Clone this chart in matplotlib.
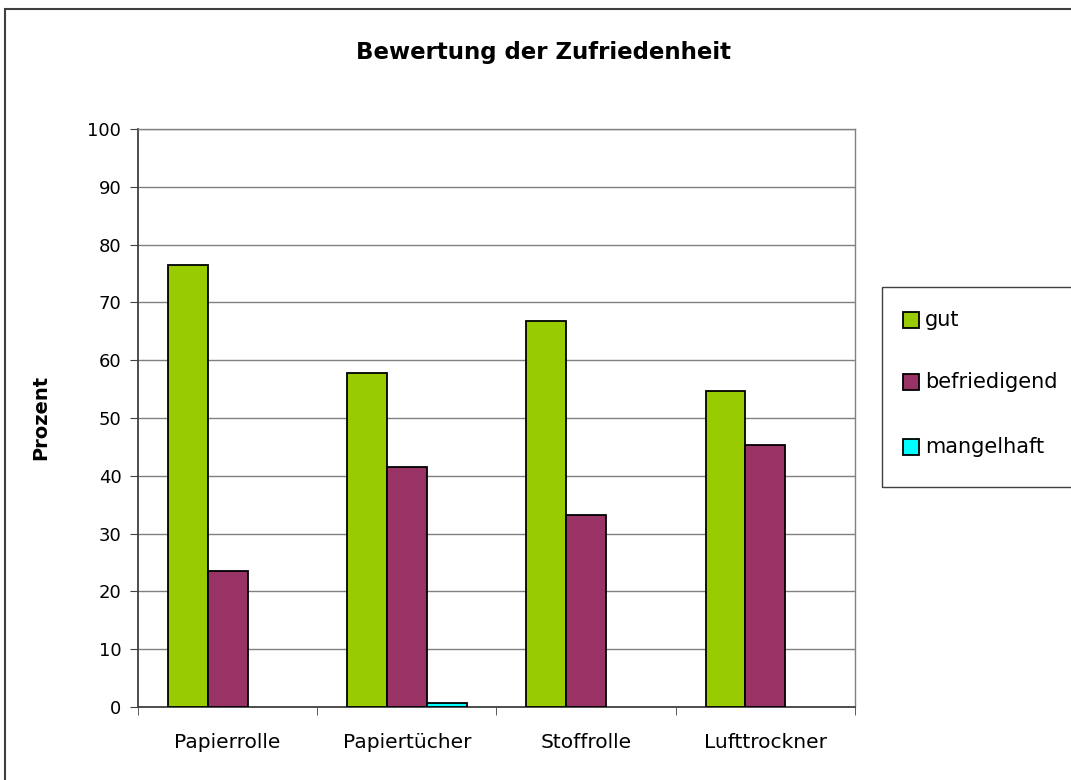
import matplotlib
matplotlib.use("Agg")
import matplotlib.pyplot as plt
import numpy as np
from matplotlib.patches import Rectangle

plt.rcParams['font.family'] = ['DejaVu Sans']

categories = ["Papierrolle", "Papiertücher", "Stoffrolle", "Lufttrockner"]
series_names = ["gut", "befriedigend", "mangelhaft"]
gut = [76.5, 57.8, 66.7, 54.7]
befriedigend = [23.5, 41.5, 33.3, 45.3]
mangelhaft = [0.0, 0.7, 0.0, 0.0]
colors = ["#99CC00", "#993366", "#00FFFF"]
yticks = [0, 10, 20, 30, 40, 50, 60, 70, 80, 90, 100]

W, H = 1071, 780
fig = plt.figure(figsize=(W / 100, H / 100), dpi=100)
fig.patch.set_facecolor("white")

# outer chart border
fig.add_artist(Rectangle((5 / W, -0.01), 1.02, 1 - 9 / H + 0.01, transform=fig.transFigure,
                         fill=False, edgecolor="#404040", linewidth=1.5))

ax = fig.add_axes([138 / W, 1 - 707 / H, (855 - 138) / W, (707 - 129) / H])
x = np.arange(len(categories))
bw = 1 / 4.5
data = [gut, befriedigend, mangelhaft]
for i, (vals, c) in enumerate(zip(data, colors)):
    v = np.array(vals, dtype=float)
    mask = v > 0
    ax.bar(x[mask] + (i - 1) * bw, v[mask], width=bw, color=c, edgecolor="black",
           linewidth=1.3, zorder=3, label=series_names[i])

ax.set_xlim(-0.5, len(categories) - 0.5)
ax.set_ylim(0, 100)
ax.set_yticks(yticks)
ax.yaxis.grid(True, color="#808080", linewidth=1.0, zorder=0)
ax.set_axisbelow(True)
ax.set_xticks(x)
ax.set_xticklabels(categories, fontsize=14.5)
ax.tick_params(axis="x", length=0, pad=19)
ax.set_xticks(np.arange(len(categories) + 1) - 0.5, minor=True)
ax.tick_params(axis="x", which="minor", length=6, direction="out", color="#404040")
ax.tick_params(axis="y", labelsize=13, length=6, direction="out", color="#404040", pad=6)
for s in ["left", "bottom"]:
    ax.spines[s].set_color("#404040")
    ax.spines[s].set_linewidth(1.3)
for s in ["right", "top"]:
    ax.spines[s].set_color("#808080")
    ax.spines[s].set_linewidth(1.0)

fig.text(41 / W, 1 - 417 / H, "Prozent", rotation=90, ha="center", va="center",
         fontsize=14, fontweight="bold")

fig.text(543 / W, 1 - 52 / H, "Bewertung der Zufriedenheit",
         ha="center", va="center", fontsize=16.5, fontweight="bold")

# legend box
fig.add_artist(Rectangle((882 / W, 1 - 487 / H), 0.3, 200 / H,
                         transform=fig.transFigure, fill=False, edgecolor="#404040", linewidth=1.0))
leg_y = [320, 382, 447]
for name, c, yy in zip(series_names, colors, leg_y):
    fig.add_artist(Rectangle((903 / W, 1 - (yy + 8) / H), 16 / W, 16 / H,
                             transform=fig.transFigure, facecolor=c, edgecolor="black", linewidth=1.3))
    fig.text(925 / W, 1 - yy / H, name, ha="left", va="center", fontsize=15)

fig.savefig("out.png", dpi=100)
